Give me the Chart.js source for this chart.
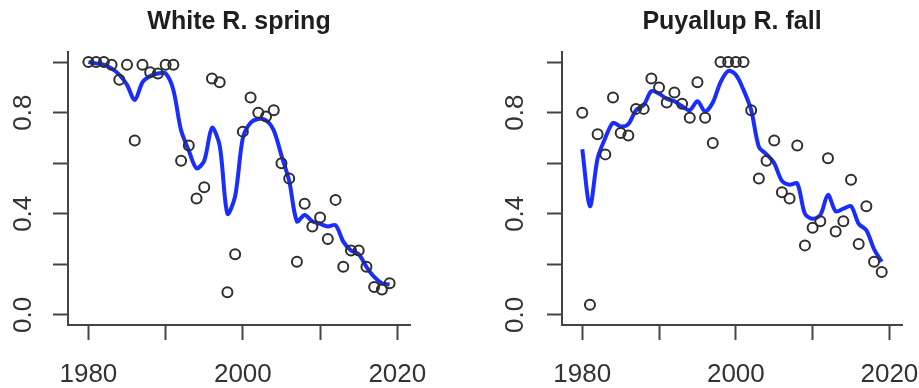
<!DOCTYPE html>
<html>
<head>
<meta charset="utf-8">
<script src="https://cdn.jsdelivr.net/npm/chart.js@4.4.1/dist/chart.umd.min.js"></script>
<style>
  html, body { margin: 0; padding: 0; background: #fff; }
  #wrap { position: relative; width: 919px; height: 388px; background: #fff; }
  canvas { position: absolute; top: 0; }
</style>
</head>
<body>
<div id="wrap">
  <canvas id="white" width="460" height="388" style="left:0px"></canvas>
  <canvas id="puy" width="459" height="388" style="left:460px"></canvas>
</div>
<script>
// survey years
const years = [
  1980, 1981, 1982, 1983, 1984, 1985, 1986, 1987, 1988, 1989,
  1990, 1991, 1992, 1993, 1994, 1995, 1996, 1997, 1998, 1999,
  2000, 2001, 2002, 2003, 2004, 2005, 2006, 2007, 2008, 2009,
  2010, 2011, 2012, 2013, 2014, 2015, 2016, 2017, 2018, 2019
];

// White R. spring - observed (circles) and smoothed fit (blue line)
const white_obs = [
  1.0, 1.0, 1.0, 0.99, 0.93, 0.99, 0.69, 0.99, 0.96, 0.955,
  0.99, 0.99, 0.61, 0.67, 0.46, 0.505, 0.935, 0.92, 0.09, 0.24,
  0.725, 0.86, 0.80, 0.785, 0.81, 0.60, 0.54, 0.21, 0.44, 0.35,
  0.385, 0.30, 0.455, 0.19, 0.255, 0.255, 0.19, 0.11, 0.10, 0.125
];
const white_fit = [
  1.0, 0.995, 0.99, 0.975, 0.95, 0.91, 0.85, 0.92, 0.945, 0.955,
  0.955, 0.89, 0.73, 0.65, 0.58, 0.61, 0.74, 0.67, 0.40, 0.47,
  0.70, 0.76, 0.775, 0.77, 0.73, 0.63, 0.53, 0.37, 0.395, 0.37,
  0.36, 0.35, 0.355, 0.29, 0.255, 0.24, 0.19, 0.15, 0.125, 0.12
];

// Puyallup R. fall
const puy_obs = [
  0.80, 0.04, 0.715, 0.635, 0.86, 0.72, 0.71, 0.815, 0.815, 0.935,
  0.90, 0.84, 0.88, 0.835, 0.78, 0.92, 0.78, 0.68, 1.0, 1.0,
  1.0, 1.0, 0.81, 0.54, 0.61, 0.69, 0.485, 0.46, 0.67, 0.275,
  0.345, 0.37, 0.62, 0.33, 0.37, 0.535, 0.28, 0.43, 0.21, 0.17
];
const puy_fit = [
  0.655, 0.43, 0.62, 0.70, 0.76, 0.745, 0.755, 0.81, 0.83, 0.885,
  0.875, 0.855, 0.845, 0.825, 0.81, 0.845, 0.805, 0.84, 0.92, 0.965,
  0.95, 0.89, 0.81, 0.665, 0.635, 0.60, 0.53, 0.515, 0.52, 0.40,
  0.38, 0.395, 0.475, 0.41, 0.42, 0.43, 0.36, 0.335, 0.26, 0.21
];

// axis ticks
const x_ticks = [1980, 1990, 2000, 2010, 2020];
const x_labels = ['1980', '', '2000', '', '2020'];
const y_ticks = [0, 0.2, 0.4, 0.6, 0.8, 1.0];
const y_labels = ['0.0', '', '0.4', '', '0.8', ''];

const FONT = '"Liberation Sans", Arial, Helvetica, sans-serif';
const AXIS_COL = '#444';
const LINE_BLUE = 'rgb(25, 45, 255)';

const titlePlugin = {
  id: 'panelTitle',
  afterDraw(chart, args, opts) {
    const ctx = chart.ctx;
    const area = chart.chartArea;
    ctx.save();
    ctx.font = 'bold 25px ' + FONT;
    ctx.fillStyle = '#1e1e1e';
    ctx.textAlign = 'center';
    ctx.textBaseline = 'alphabetic';
    ctx.fillText(opts.text, (area.left + area.right) / 2, 29);
    ctx.restore();
  }
};

function makePanel(id, title, obs, fit, box) {
  const pts = years.map((yr, i) => ({ x: yr, y: obs[i] }));
  const curve = years.map((yr, i) => ({ x: yr, y: fit[i] }));

  return new Chart(document.getElementById(id), {
    type: 'scatter',
    data: {
      datasets: [
        {
          data: pts,
          showLine: false,
          pointRadius: 5,
          pointBorderWidth: 2,
          pointBorderColor: '#2e2e2e',
          pointBackgroundColor: 'rgba(0,0,0,0)'
        },
        {
          data: curve,
          showLine: true,
          borderColor: LINE_BLUE,
          borderWidth: 4,
          pointRadius: 0,
          tension: 0.3,
          fill: false
        }
      ]
    },
    options: {
      responsive: false,
      animation: false,
      layout: { padding: { top: box.top, right: box.right, left: 0, bottom: 0 } },
      plugins: {
        legend: { display: false },
        tooltip: { enabled: false },
        panelTitle: { text: title }
      },
      scales: {
        x: {
          type: 'linear',
          min: 1977.36,
          max: 2021.64,
          afterBuildTicks: s => { s.ticks = x_ticks.map(v => ({ value: v })); },
          afterFit: s => {
            s.height = 388 - box.bottom;
            s.paddingLeft = 0;
            s.paddingRight = 0;
          },
          ticks: {
            callback: v => x_labels[x_ticks.indexOf(v)],
            font: { size: 26, family: FONT },
            color: '#333',
            padding: 19,
            maxRotation: 0,
            autoSkip: false
          },
          grid: { drawOnChartArea: false, drawTicks: true, tickLength: 15, tickWidth: 2, tickColor: AXIS_COL },
          border: { display: true, color: AXIS_COL, width: 2 }
        },
        y: {
          type: 'linear',
          min: -0.04,
          max: 1.04,
          afterBuildTicks: s => { s.ticks = y_ticks.map(v => ({ value: v })); },
          afterFit: s => { s.width = box.left; },
          ticks: {
            callback: v => y_labels[y_ticks.findIndex(t => Math.abs(t - v) < 1e-6)],
            font: { size: 26, family: FONT },
            color: '#333',
            padding: box.ypad,
            minRotation: 90,
            maxRotation: 90,
            crossAlign: 'center',
            autoSkip: false
          },
          grid: { drawOnChartArea: false, drawTicks: true, tickLength: 15, tickWidth: 2, tickColor: AXIS_COL },
          border: { display: true, color: AXIS_COL, width: 2 }
        }
      }
    },
    plugins: [titlePlugin]
  });
}

makePanel('white', 'White R. spring', white_obs, white_fit,
  { left: 68, right: 50, top: 52, bottom: 325, ypad: 11 });
makePanel('puy', 'Puyallup R. fall', puy_obs, puy_fit,
  { left: 102, right: 17, top: 52, bottom: 325, ypad: 13 });
</script>
</body>
</html>
